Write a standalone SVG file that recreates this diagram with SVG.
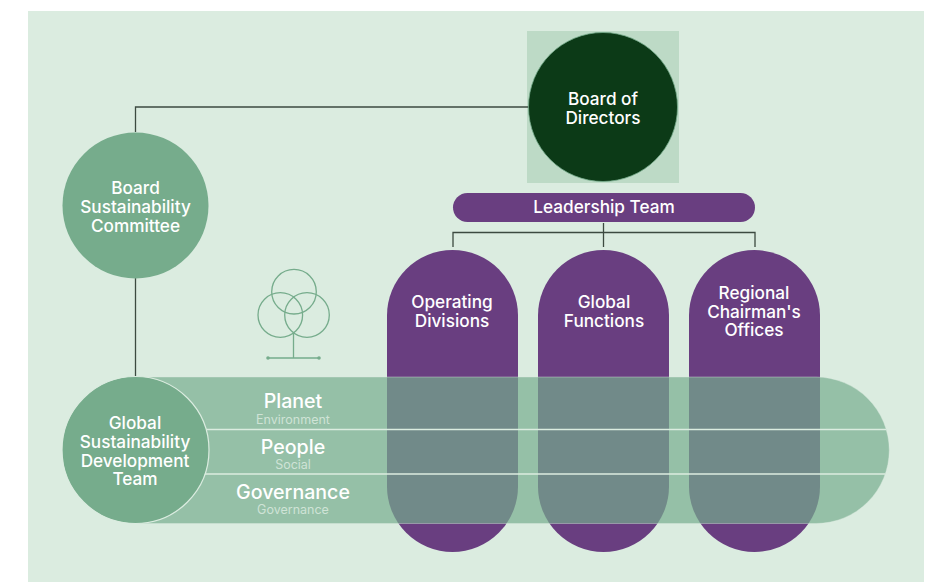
<svg xmlns="http://www.w3.org/2000/svg" width="939" height="582" viewBox="0 0 939 582">
<style>
text{font-family:Inter,"Liberation Sans",sans-serif;fill:#fff;text-anchor:middle;font-weight:500}
.n{font-size:17.2px}
.h{font-size:19.600px}
.s{font-size:12.500px;font-weight:400;fill:#cfe3d6}
.conn{fill:none;stroke:#3c4a40;stroke-width:1.300}
.pill{fill:#693e80}
.icon{fill:none;stroke:#76ac8c;stroke-width:1.300}
.div{stroke:#dbece0;stroke-width:1.500}
</style>
<defs>
<clipPath id="bandClip"><path d="M136 377H816a73.250 73.250 0 0 1 0 146.500H136Z"/></clipPath>
</defs>
<rect x="0" y="0" width="939" height="582" fill="#fff"/>
<rect x="28" y="11" width="896" height="571" fill="#dbece0"/>
<rect x="527" y="31" width="152" height="152" fill="#bddac6"/>
<g id="connectors">
<path class="conn" d="M135.500 132V107H530"/>
<path class="conn" d="M135.500 278V378"/>
<path class="conn" d="M603.500 223V247M453 247V232.500H755V247"/>
</g>
<g id="pillars">
<rect class="pill" x="387" y="250" width="131" height="302" rx="65.500"/>
<rect class="pill" x="538" y="250" width="131" height="302" rx="65.500"/>
<rect class="pill" x="689" y="250" width="131" height="302" rx="65.500"/>
</g>
<g id="band">
<path d="M136 377H816a73.250 73.250 0 0 1 0 146.500H136Z" fill="#76ac8c" fill-opacity=".69" stroke="#dbece0" stroke-opacity=".5" stroke-width=".8"/>
<g clip-path="url(#bandClip)">
<path class="div" d="M136 429.500H890M136 474H890"/>
</g>
<text class="h" x="293" y="408">Planet</text>
<text class="s" x="293" y="423.500">Environment</text>
<text class="h" x="293" y="454">People</text>
<text class="s" x="293" y="469">Social</text>
<text class="h" x="293" y="499">Governance</text>
<text class="s" x="293" y="513.500">Governance</text>
</g>
<g id="board-of-directors">
<circle cx="603" cy="107" r="74.500" fill="#0c3a17" stroke="#76ac8c" stroke-width=".8"/>
<text class="n"><tspan x="603" y="104.500">Board of</tspan><tspan x="603" y="123.500">Directors</tspan></text>
</g>
<g id="leadership-team">
<rect class="pill" x="453" y="193" width="302" height="29" rx="14.500"/>
<text class="n" x="604" y="213">Leadership Team</text>
</g>
<g id="board-sustainability-committee">
<circle cx="135.500" cy="205.500" r="73" fill="#76ac8c"/>
<text class="n"><tspan x="135.500" y="193.500">Board</tspan><tspan x="135.500" y="212.500">Sustainability</tspan><tspan x="135.500" y="231.500">Committee</tspan></text>
</g>
<g id="operating-divisions">
<text class="n"><tspan x="452" y="308">Operating</tspan><tspan x="452" y="327">Divisions</tspan></text>
</g>
<g id="global-functions">
<text class="n"><tspan x="604" y="308">Global</tspan><tspan x="604" y="327">Functions</tspan></text>
</g>
<g id="regional-chairmans-offices">
<text class="n"><tspan x="754" y="299">Regional</tspan><tspan x="754" y="317.500">Chairman's</tspan><tspan x="754" y="336">Offices</tspan></text>
</g>
<g id="global-sustainability-development-team">
<circle cx="135.500" cy="450" r="73.500" fill="#76ac8c" stroke="#dbece0" stroke-width="1.200"/>
<text class="n"><tspan x="135" y="428.500">Global</tspan><tspan x="135" y="447.500">Sustainability</tspan><tspan x="135" y="466.500">Development</tspan><tspan x="135" y="484.500">Team</tspan></text>
</g>
<g id="tree-icon">
<circle class="icon" cx="294" cy="291.700" r="22.300"/>
<circle class="icon" cx="280.300" cy="315" r="22.300"/>
<circle class="icon" cx="307" cy="315" r="22.300"/>
<path class="icon" d="M293.500 333V358M268 358H319"/>
<circle cx="268" cy="358" r="1.800" fill="#76ac8c"/>
<circle cx="319" cy="358" r="1.800" fill="#76ac8c"/>
</g>
</svg>
